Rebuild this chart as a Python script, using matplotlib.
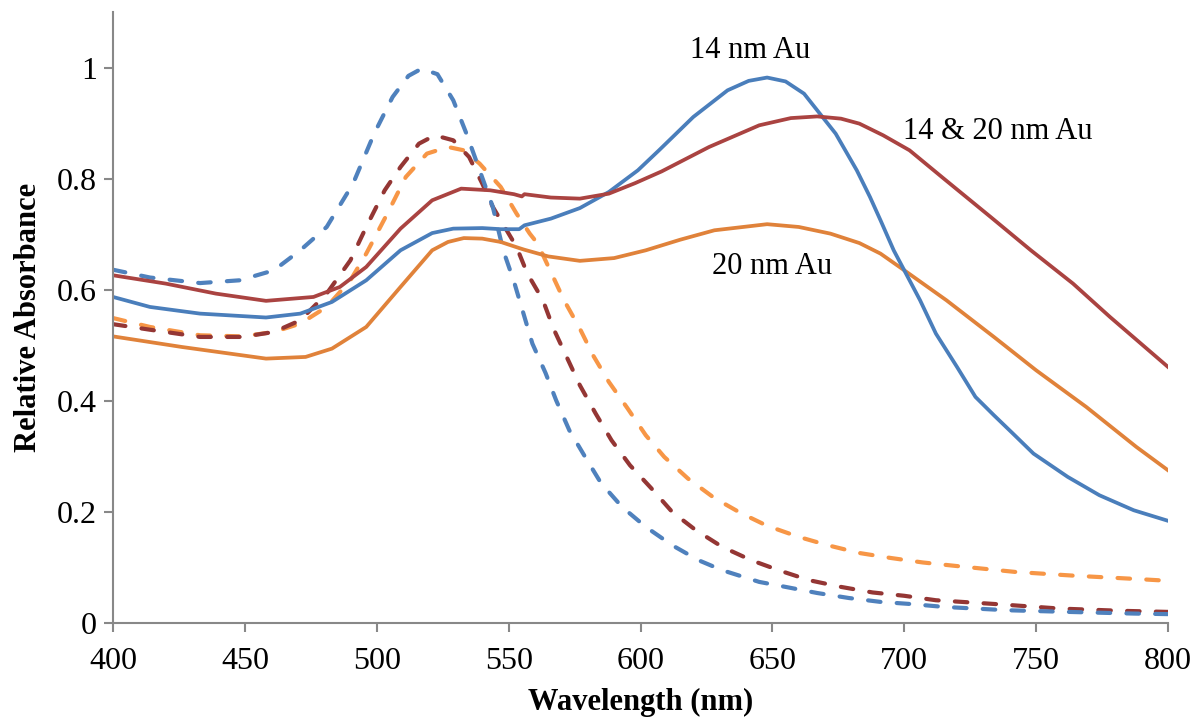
import numpy as np
import matplotlib
matplotlib.use('Agg')
from matplotlib import pyplot as plt

plt.rcParams['font.family'] = ['Liberation Serif', 'DejaVu Serif']

# 14 nm Au (solid blue)
wl_14 = [400, 414, 433, 458, 471, 483, 496, 509, 521, 529, 540, 547, 554, 556, 566, 577,
         588, 599, 607, 620, 633, 641, 648, 655, 662, 674, 682, 687, 691, 696, 700, 706,
         712, 720, 727, 734, 741, 749, 762, 774, 787, 800]
abs_14 = [0.587, 0.569, 0.557, 0.550, 0.557, 0.578, 0.617, 0.671, 0.702, 0.710, 0.711, 0.709,
          0.709, 0.716, 0.728, 0.747, 0.776, 0.815, 0.851, 0.911, 0.959, 0.976, 0.982, 0.975,
          0.953, 0.881, 0.815, 0.767, 0.725, 0.671, 0.635, 0.581, 0.521, 0.461, 0.407, 0.374,
          0.342, 0.305, 0.263, 0.230, 0.203, 0.184]

# 14 & 20 nm Au (solid red)
wl_1420 = [400, 420, 439, 458, 476, 486, 496, 509, 521, 532, 543, 552, 555, 556, 566, 577,
           588, 598, 608, 626, 645, 657, 667, 676, 683, 692, 702, 715, 733, 748, 764, 778, 800]
abs_1420 = [0.626, 0.611, 0.593, 0.580, 0.587, 0.605, 0.641, 0.710, 0.761, 0.782, 0.779, 0.772,
            0.768, 0.772, 0.766, 0.764, 0.773, 0.792, 0.813, 0.857, 0.896, 0.909, 0.912, 0.908,
            0.899, 0.878, 0.851, 0.800, 0.730, 0.671, 0.611, 0.551, 0.461]

# 20 nm Au (solid orange)
wl_20 = [400, 426, 458, 473, 483, 496, 509, 521, 527, 533, 540, 547, 554, 556, 565, 577, 590,
         602, 615, 628, 648, 660, 672, 683, 691, 700, 716, 734, 750, 769, 788, 800]
abs_20 = [0.516, 0.497, 0.476, 0.479, 0.494, 0.533, 0.605, 0.671, 0.686, 0.693, 0.692, 0.686,
          0.675, 0.672, 0.660, 0.652, 0.657, 0.671, 0.690, 0.707, 0.718, 0.713, 0.701, 0.684,
          0.665, 0.635, 0.581, 0.515, 0.455, 0.389, 0.317, 0.275]

# dashed series
wl_14d = [400, 414, 433, 448, 461, 471, 481, 491, 499, 506, 512, 517, 523, 529, 534, 539, 544,
          548, 552, 556, 559, 564, 568, 573, 579, 585, 593, 602, 612, 622, 631, 645, 655, 667,
          679, 691, 703, 715, 739, 762, 787, 800]
abs_14d = [0.636, 0.622, 0.612, 0.617, 0.635, 0.671, 0.713, 0.791, 0.881, 0.947, 0.985, 0.998,
           0.988, 0.941, 0.881, 0.815, 0.749, 0.670, 0.615, 0.551, 0.503, 0.450, 0.401, 0.347,
           0.299, 0.252, 0.209, 0.173, 0.140, 0.113, 0.095, 0.074, 0.065, 0.054, 0.045, 0.038,
           0.034, 0.029, 0.023, 0.020, 0.017, 0.016]

wl_1420d = [400, 414, 433, 449, 461, 471, 481, 490, 496, 503, 509, 516, 522, 529, 535, 540, 544,
            553, 557, 563, 567, 572, 577, 583, 589, 596, 604, 612, 621, 631, 642, 653, 664, 676,
            688, 700, 712, 735, 759, 782, 800]
abs_1420d = [0.538, 0.528, 0.515, 0.515, 0.524, 0.545, 0.593, 0.653, 0.713, 0.779, 0.821, 0.863,
             0.878, 0.869, 0.839, 0.791, 0.749, 0.677, 0.630, 0.581, 0.530, 0.479, 0.428, 0.377,
             0.329, 0.284, 0.243, 0.200, 0.167, 0.137, 0.113, 0.094, 0.077, 0.065, 0.055, 0.049,
             0.041, 0.034, 0.026, 0.022, 0.020]

wl_20d = [400, 414, 433, 449, 461, 471, 481, 490, 496, 504, 511, 519, 527, 533, 539, 547, 553,
          558, 561, 566, 571, 577, 582, 588, 595, 602, 609, 618, 628, 638, 648, 660, 671, 683,
          695, 707, 719, 742, 765, 789, 800]
abs_20d = [0.549, 0.533, 0.518, 0.516, 0.524, 0.539, 0.569, 0.617, 0.665, 0.737, 0.803, 0.845,
           0.857, 0.851, 0.827, 0.785, 0.737, 0.701, 0.683, 0.632, 0.581, 0.530, 0.482, 0.434,
           0.387, 0.338, 0.299, 0.260, 0.225, 0.198, 0.175, 0.155, 0.140, 0.126, 0.117, 0.109,
           0.103, 0.092, 0.085, 0.079, 0.076]

fig = plt.figure(figsize=(11.95, 7.23), dpi=100)
ax = fig.add_axes([0.0946, 0.1383, 0.8828, 0.8451])

dash = dict(ls=(0, (3.0, 3.9)), lw=3.0, dash_capstyle='round', solid_joinstyle='round')
ax.plot(wl_20d, abs_20d, color='#f79646', **dash)
ax.plot(wl_1420d, abs_1420d, color='#943634', **dash)
ax.plot(wl_14d, abs_14d, color='#4f81bd', **dash)

ax.plot(wl_20, abs_20, color='#e0823a', lw=2.7, solid_joinstyle='round')
ax.plot(wl_14, abs_14, color='#4a7ebb', lw=2.7, solid_joinstyle='round')
ax.plot(wl_1420, abs_1420, color='#aa4341', lw=2.7, solid_joinstyle='round')

ax.text(641.5, 1.03, '14 nm Au', fontsize=22, ha='center', va='center')
ax.text(699.5, 0.885, '14 & 20 nm Au', fontsize=22, ha='left', va='center')
ax.text(650, 0.642, '20 nm Au', fontsize=22, ha='center', va='center')

ax.set_xlim(400, 800)
ax.set_ylim(0, 1.1)
ax.set_xticks([400, 450, 500, 550, 600, 650, 700, 750, 800])
ax.set_yticks([0, 0.2, 0.4, 0.6, 0.8, 1.0])
ax.set_yticklabels(['0', '0.2', '0.4', '0.6', '0.8', '1'])

for s in ['top', 'right']:
    ax.spines[s].set_visible(False)
for s in ['left', 'bottom']:
    ax.spines[s].set_color('#888888')
    ax.spines[s].set_linewidth(1.5)
ax.tick_params(axis='both', direction='out', length=6.5, width=1.5, color='#888888',
               labelsize=23, labelcolor='black')
ax.tick_params(axis='y', pad=5)
ax.tick_params(axis='x', pad=11)

ax.set_xlabel('Wavelength (nm)', fontsize=22, fontweight='bold', labelpad=8)
ax.set_ylabel('Relative Absorbance', fontsize=22, fontweight='bold', labelpad=10)

fig.savefig('out.png', dpi=100)
